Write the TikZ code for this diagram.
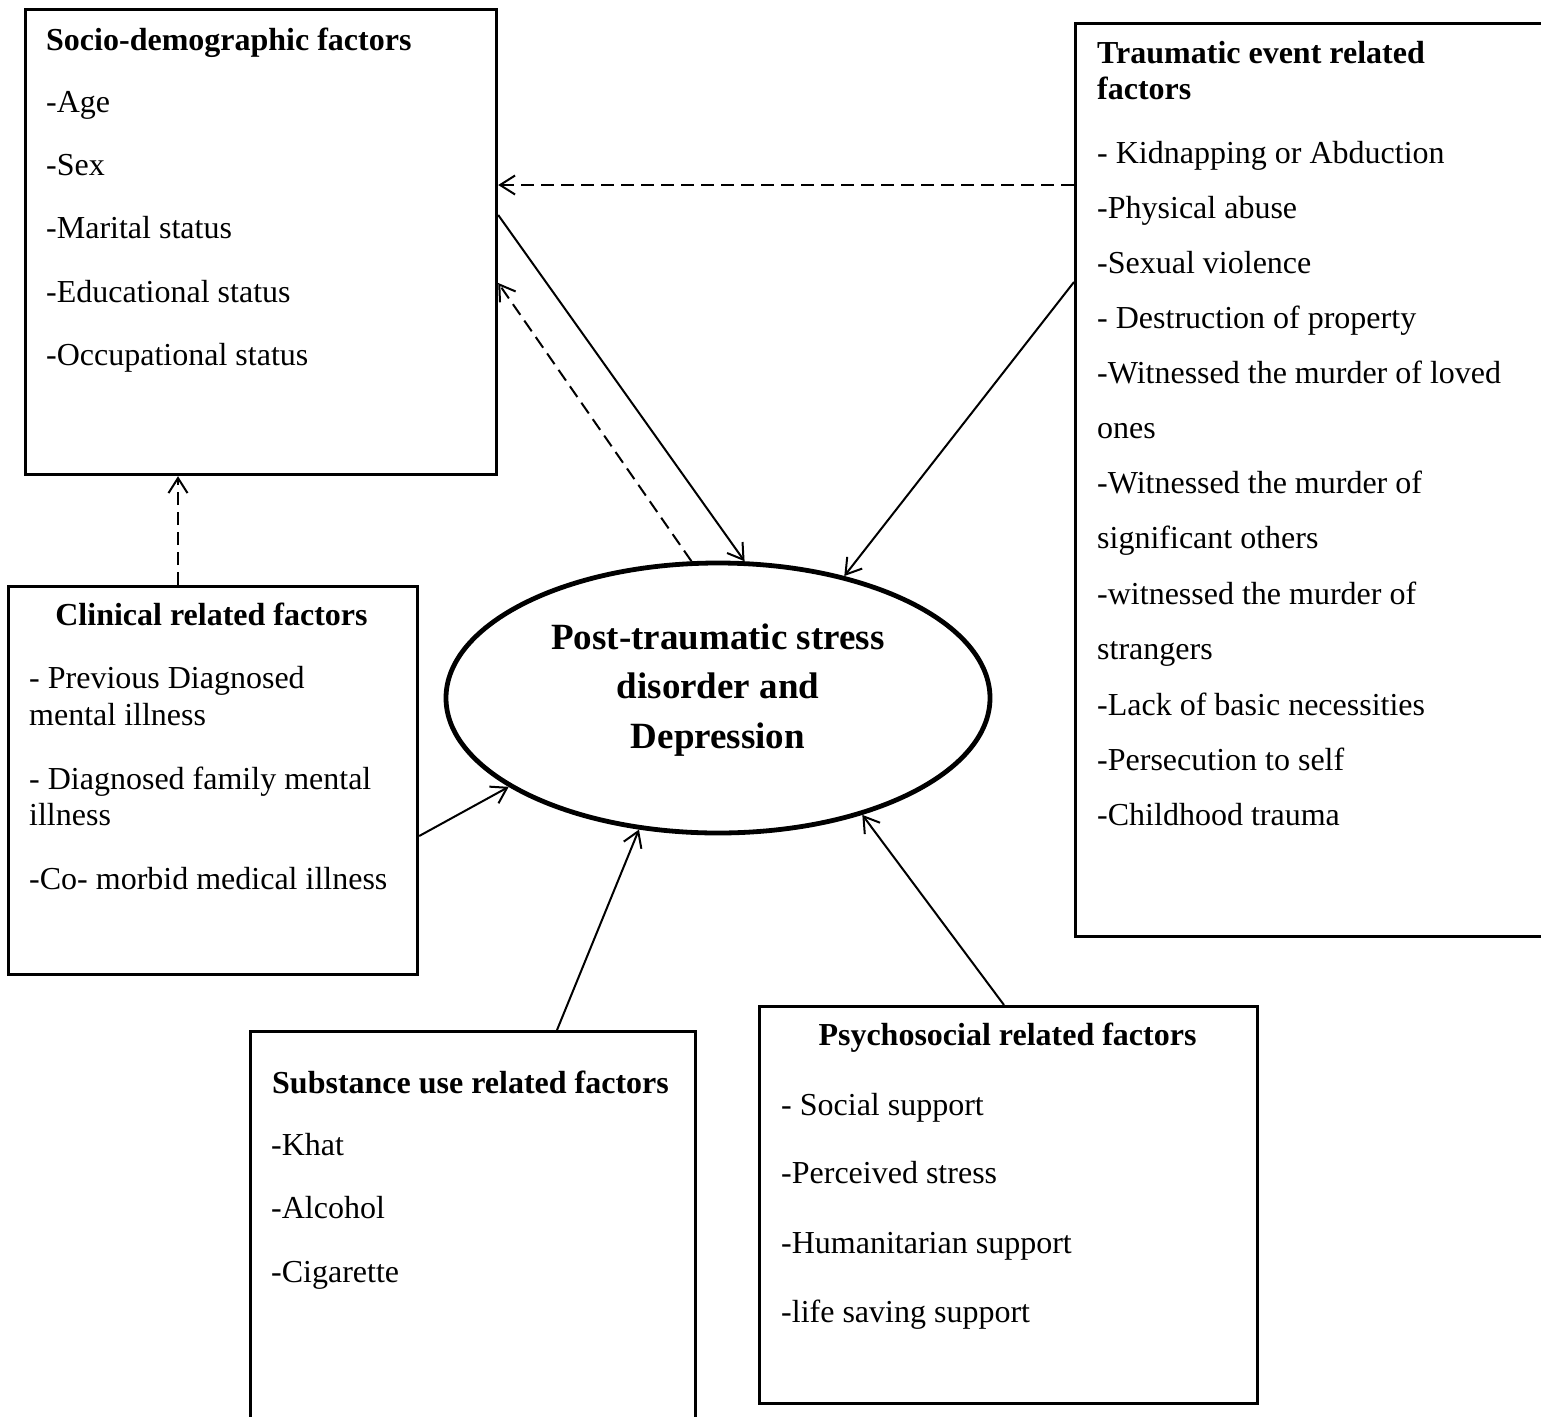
\documentclass[tikz,border=0pt]{standalone}
\usepackage{fontspec}
\setmainfont{Liberation Serif}
\usetikzlibrary{arrows.meta,shapes.geometric}
\begin{document}
\begin{tikzpicture}[x=1pt,y=-1pt,
  box/.style={draw, line width=3.3pt, rectangle, inner sep=0pt, outer sep=1.6pt, anchor=north west},
  txt/.style={anchor=base west, inner sep=0pt, font=\fontsize{32}{38}\selectfont},
  hd/.style={anchor=base west, inner sep=0pt, font=\fontsize{32}{38}\selectfont\bfseries},
  hdc/.style={hd, anchor=base},
  etxt/.style={anchor=base, inner sep=0pt, font=\fontsize{37}{44}\selectfont\bfseries},
  conn/.style={line width=2pt, -{Straight Barb[length=15pt,width=19pt,line width=2pt]}},
  dsh/.style={conn, dash pattern=on 13pt off 7pt}]
\useasboundingbox (0,0) rectangle (1541,1416);
\clip (0,0) rectangle (1541,1416);

% boxes
\node[box, minimum width=471, minimum height=465] (socio) at (24,8) {};
\node[box, minimum width=490, minimum height=913] (trauma) at (1074,22) {};
\node[box, minimum width=409, minimum height=388] (clin) at (7,585) {};
\node[box, minimum width=445, minimum height=420] (subst) at (249,1030) {};
\node[box, minimum width=498, minimum height=397] (psych) at (758,1005) {};
\node[draw, ellipse, line width=4.8pt, minimum width=544, minimum height=270, inner sep=0pt, outer sep=2.4pt] (ell) at (718,698) {};

% socio-demographic text
\node[hd]  (so0) at (46,50)  {Socio-demographic factors};
\node[txt] (so1) at (46,112) {-Age};
\node[txt] (so2) at (46,175) {-Sex};
\node[txt] (so3) at (46,238) {-Marital status};
\node[txt] (so4) at (46,302) {-Educational status};
\node[txt] (so5) at (46,365) {-Occupational status};

% traumatic text
\node[hd]  (tr0)  at (1097,63)  {Traumatic event related};
\node[hd]  (tr0b) at (1097,99)  {factors};
\node[txt] (tr1)  at (1097,163) {- Kidnapping or Abduction};
\node[txt] (tr2)  at (1097,218) {-Physical abuse};
\node[txt] (tr3)  at (1097,273) {-Sexual violence};
\node[txt] (tr4)  at (1097,328) {- Destruction of property};
\node[txt] (tr5)  at (1097,383) {-Witnessed the murder of loved};
\node[txt] (tr6)  at (1097,438) {ones};
\node[txt] (tr7)  at (1097,493) {-Witnessed the murder of};
\node[txt] (tr8)  at (1097,548) {significant others};
\node[txt] (tr9)  at (1097,604) {-witnessed the murder of};
\node[txt] (tr10) at (1097,659) {strangers};
\node[txt] (tr11) at (1097,715) {-Lack of basic necessities};
\node[txt] (tr12) at (1097,770) {-Persecution to self};
\node[txt] (tr13) at (1097,825) {-Childhood trauma};

% clinical text
\node[hdc] (cl0) at (211.5,625) {Clinical related factors};
\node[txt] (cl1) at (29,688) {- Previous Diagnosed};
\node[txt] (cl2) at (29,725) {mental illness};
\node[txt] (cl3) at (29,789) {- Diagnosed family mental};
\node[txt] (cl4) at (29,825) {illness};
\node[txt] (cl5) at (29,889) {-Co- morbid medical illness};

% substance text
\node[hd]  (su0) at (272,1093) {Substance use related factors};
\node[txt] (su1) at (271,1155) {-Khat};
\node[txt] (su2) at (271,1218) {-Alcohol};
\node[txt] (su3) at (271,1282) {-Cigarette};

% psychosocial text
\node[hdc] (ps0) at (1007.5,1045) {Psychosocial related factors};
\node[txt] (ps1) at (781,1115) {- Social support};
\node[txt] (ps2) at (781,1183) {-Perceived stress};
\node[txt] (ps3) at (781,1253) {-Humanitarian support};
\node[txt] (ps4) at (781,1322) {-life saving support};

% ellipse text
\node[etxt] (e1) at (718,649) {Post-traumatic stress};
\node[etxt] (e2) at (718,698) {disorder and};
\node[etxt] (e3) at (718,748) {Depression};

% connectors
\draw[dsh]  (trauma.west |- 0,185) -- (socio.east |- 0,185);
\draw[conn] (socio.east |- 0,215) -- (ell.79.5);
\draw[dsh]  (ell.101.7) -- (socio.east |- 0,283);
\draw[conn] (trauma.west |- 0,282) -- (ell.44);
\draw[dsh]  (clin.north -| 178,0) -- (socio.south -| 178,0);
\draw[conn] (clin.east |- 0,836) -- (ell.203);
\draw[conn] (subst.north -| 557,0) -- (ell.239);
\draw[conn] (psych.north -| 1004,0) -- (ell.321.5);
\end{tikzpicture}
\end{document}
